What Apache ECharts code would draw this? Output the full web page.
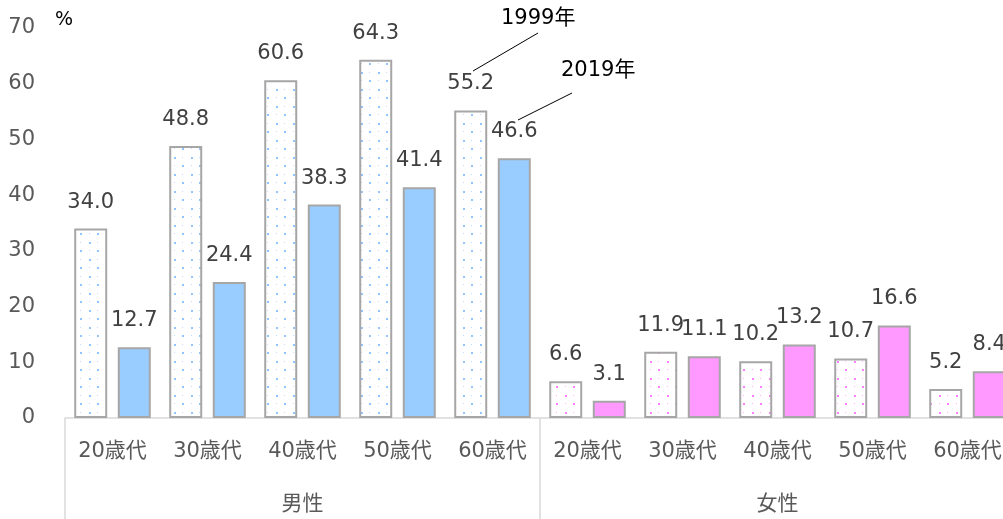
<!DOCTYPE html>
<html>
<head>
<meta charset="utf-8">
<script src="https://cdn.jsdelivr.net/npm/echarts@6/dist/echarts.min.js"></script>
<style>
  html, body { margin: 0; padding: 0; background: #fff; }
  #chart { width: 1003px; height: 519px; }
</style>
</head>
<body>
<div id="chart"></div>
<script>
// 年代カテゴリ（男性5つ＋女性5つ）
const ageLabels = ['20歳代', '30歳代', '40歳代', '50歳代', '60歳代',
                   '20歳代', '30歳代', '40歳代', '50歳代', '60歳代']
const sexLabels = ['男性', '女性']
const values1999 = [34.0, 48.8, 60.6, 64.3, 55.2, 6.6, 11.9, 10.2, 10.7, 5.2]
const values2019 = [12.7, 24.4, 38.3, 41.4, 46.6, 3.1, 11.1, 13.2, 16.6, 8.4]
const yTicks = { min: 0, max: 70, interval: 10 }

const FONT = 'Verdana, "DejaVu Sans", "Noto Sans CJK JP", sans-serif'
const BLUE = '#99ccff'
const PINK = '#ff99ff'
const BORDER = '#a6a6a6'

// ドット柄のパターン（千鳥配置）
function dotPattern(dotColor) {
  const c = document.createElement('canvas')
  c.width = 17
  c.height = 17
  const ctx = c.getContext('2d')
  ctx.fillStyle = '#ffffff'
  ctx.fillRect(0, 0, 17, 17)
  ctx.fillStyle = dotColor
  ctx.fillRect(4, 4, 2, 2)
  ctx.fillRect(12, 12, 2, 2)
  ctx.globalAlpha = 0.6
  ctx.fillRect(12, 4, 1, 1)
  ctx.fillRect(4, 12, 1, 1)
  return { image: c, repeat: 'repeat' }
}
const bluePattern = dotPattern('#8fc4ff')
const pinkPattern = dotPattern('#ff80ff')

const data1999 = values1999.map((v, i) => ({
  value: v,
  itemStyle: { color: i < 5 ? bluePattern : pinkPattern }
}))
const data2019 = values2019.map((v, i) => ({
  value: v,
  itemStyle: { color: i < 5 ? BLUE : PINK }
}))

const chart = echarts.init(document.getElementById('chart'))

const barLabel = {
  show: true,
  position: 'top',
  distance: 16,
  color: '#404040',
  fontSize: 21,
  fontFamily: FONT,
  formatter: (p) => p.value.toFixed(1)
}

const option = {
  animation: false,
  backgroundColor: '#fff',
  textStyle: { fontFamily: FONT },
  grid: { left: 65, top: 28, width: 950, bottom: 101, outerBoundsMode: 'none', containLabel: false },
  xAxis: [
    {
      type: 'category',
      data: ageLabels,
      position: 'bottom',
      axisLine: { show: true, lineStyle: { color: '#d9d9d9', width: 1.5 } },
      axisTick: { show: false },
      axisLabel: { interval: 0, margin: 23, color: '#595959', fontSize: 21, fontFamily: FONT }
    },
    {
      // 男性／女性の下段ラベルと区切り線
      type: 'category',
      data: sexLabels,
      position: 'bottom',
      offset: 0,
      axisLine: { show: false },
      axisTick: { show: true, length: 101, lineStyle: { color: '#d9d9d9', width: 1.5 } },
      axisLabel: { interval: 0, margin: 76, color: '#595959', fontSize: 21, fontFamily: FONT }
    }
  ],
  yAxis: {
    type: 'value',
    min: yTicks.min,
    max: yTicks.max,
    interval: yTicks.interval,
    axisLine: { show: false },
    axisTick: { show: false },
    splitLine: { show: false },
    axisLabel: { margin: 30, color: '#595959', fontSize: 21, fontFamily: FONT }
  },
  series: [
    {
      name: '1999年',
      type: 'bar',
      xAxisIndex: 0,
      data: data1999,
      barWidth: 33,
      barGap: '32%',
      itemStyle: { borderColor: BORDER, borderWidth: 2 },
      label: barLabel
    },
    {
      name: '2019年',
      type: 'bar',
      xAxisIndex: 0,
      data: data2019,
      barWidth: 33,
      barGap: '32%',
      itemStyle: { borderColor: BORDER, borderWidth: 2 },
      label: barLabel
    }
  ],
  graphic: [
    { type: 'text', left: 55, top: 11, style: { text: '%', fill: '#000', font: '19px ' + FONT } },
    { type: 'text', left: 501, top: 8, style: { text: '1999年', fill: '#000', font: '21px ' + FONT } },
    { type: 'text', left: 561, top: 60, style: { text: '2019年', fill: '#000', font: '21px ' + FONT } },
    { type: 'line', shape: { x1: 473, y1: 71, x2: 538, y2: 33 }, style: { stroke: '#000', lineWidth: 1 } },
    { type: 'line', shape: { x1: 518, y1: 120, x2: 572, y2: 93 }, style: { stroke: '#000', lineWidth: 1 } }
  ]
}

chart.setOption(option)
</script>
</body>
</html>
